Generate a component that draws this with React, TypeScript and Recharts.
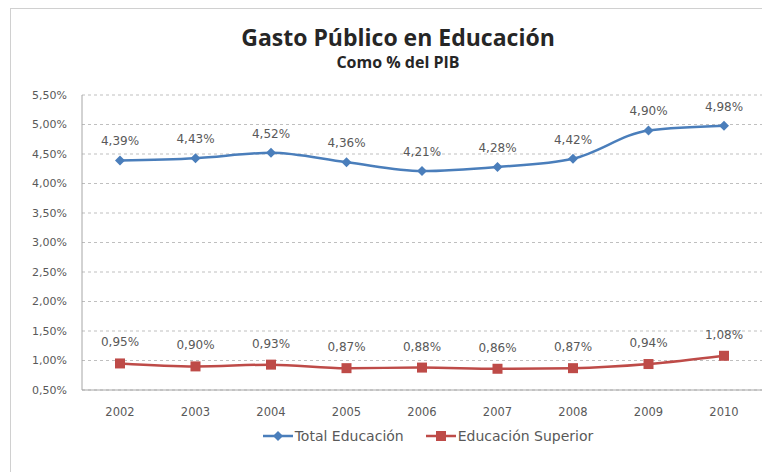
import React from 'react'
import { CartesianGrid, LabelList, Legend, Line, LineChart, XAxis, YAxis } from 'recharts'

const years = ['2002', '2003', '2004', '2005', '2006', '2007', '2008', '2009', '2010']
const totalEducacion = [4.39, 4.43, 4.52, 4.36, 4.21, 4.28, 4.42, 4.9, 4.98]
const educacionSuperior = [0.95, 0.9, 0.93, 0.87, 0.88, 0.86, 0.87, 0.94, 1.08]
const yTicks = [0.5, 1, 1.5, 2, 2.5, 3, 3.5, 4, 4.5, 5, 5.5]

const BLUE = '#4A7EBB'
const RED = '#BE4B48'
const TEXT = '#595959'
const FONT = '"DejaVu Sans", sans-serif'
const TITLE_FONT = '"Open Sans", sans-serif'

const data = years.map((year, i) => ({
	year,
	total: totalEducacion[i],
	superior: educacionSuperior[i],
}))

const fmt = (v: number) => v.toFixed(2).replace('.', ',') + '%'

const Diamond = (props: any) => {
	const { cx, cy } = props
	if (cx == null || cy == null) return null
	return <path d={`M${cx},${cy - 5}L${cx + 5},${cy}L${cx},${cy + 5}L${cx - 5},${cy}Z`} fill={BLUE} />
}

const Square = (props: any) => {
	const { cx, cy } = props
	if (cx == null || cy == null) return null
	return <rect x={cx - 5} y={cy - 5} width={10} height={10} fill={RED} />
}

const renderLegend = () => (
	<div
		style={{
			display: 'flex',
			justifyContent: 'center',
			gap: 22,
			height: 20,
			alignItems: 'center',
			fontSize: 14,
			color: TEXT,
			fontFamily: FONT,
			paddingLeft: 86,
		}}
	>
		<span style={{ display: 'flex', alignItems: 'center' }}>
			<svg width={30} height={12}>
				<line x1={0} y1={6} x2={30} y2={6} stroke={BLUE} strokeWidth={2.5} />
				<path d="M15,1L20,6L15,11L10,6Z" fill={BLUE} />
			</svg>
			<span style={{ marginLeft: 2 }}>Total Educación</span>
		</span>
		<span style={{ display: 'flex', alignItems: 'center' }}>
			<svg width={30} height={12}>
				<line x1={0} y1={6} x2={30} y2={6} stroke={RED} strokeWidth={2.5} />
				<rect x={10} y={1} width={10} height={10} fill={RED} />
			</svg>
			<span style={{ marginLeft: 2 }}>Educación Superior</span>
		</span>
	</div>
)

export default function App() {
	return (
		<div style={{ position: 'relative', width: 762, height: 464, fontFamily: FONT }}>
			<div
				style={{
					position: 'absolute',
					left: 2,
					top: 0,
					width: 760,
					height: 464,
					borderTop: '1px solid #d0d0d0',
					borderLeft: '1px solid #d0d0d0',
					boxSizing: 'border-box',
				}}
			/>
			<div
				style={{
					position: 'absolute',
					left: 0,
					width: 780,
					top: 14,
					textAlign: 'center',
					color: '#262626',
					fontWeight: 'bold',
					fontFamily: TITLE_FONT,
				}}
			>
				<div style={{ fontSize: 23, lineHeight: '30px' }}>Gasto Público en Educación</div>
				<div style={{ fontSize: 16, lineHeight: '20px' }}>Como % del PIB</div>
			</div>
			<LineChart width={762} height={464} data={data} margin={{ top: 87, right: 8, left: 0, bottom: 26 }}>
				<CartesianGrid vertical={false} stroke="#bfbfbf" strokeDasharray="3 3" />
				<XAxis
					dataKey="year"
					height={36}
					padding={{ left: 38, right: 38 }}
					tickLine={false}
					tickMargin={12}
					stroke="#a6a6a6"
					tick={{ fill: TEXT, fontSize: 11.5 }}
				/>
				<YAxis
					width={74}
					domain={[0.5, 5.5]}
					ticks={yTicks}
					interval={0}
					tickLine={false}
					tickMargin={9}
					stroke="#a6a6a6"
					tickFormatter={fmt}
					tick={{ fill: TEXT, fontSize: 11 }}
				/>
				<Legend verticalAlign="bottom" content={renderLegend} />
				<Line
					type="monotone"
					dataKey="total"
					name="Total Educación"
					stroke={BLUE}
					strokeWidth={2.5}
					dot={<Diamond />}
					activeDot={false}
					isAnimationActive={false}
				>
					<LabelList dataKey="total" position="top" offset={15} formatter={(v: any) => fmt(Number(v))} fill={TEXT} fontSize={12} />
				</Line>
				<Line
					type="monotone"
					dataKey="superior"
					name="Educación Superior"
					stroke={RED}
					strokeWidth={2.5}
					dot={<Square />}
					activeDot={false}
					isAnimationActive={false}
				>
					<LabelList dataKey="superior" position="top" offset={17} formatter={(v: any) => fmt(Number(v))} fill={TEXT} fontSize={12} />
				</Line>
			</LineChart>
		</div>
	)
}
